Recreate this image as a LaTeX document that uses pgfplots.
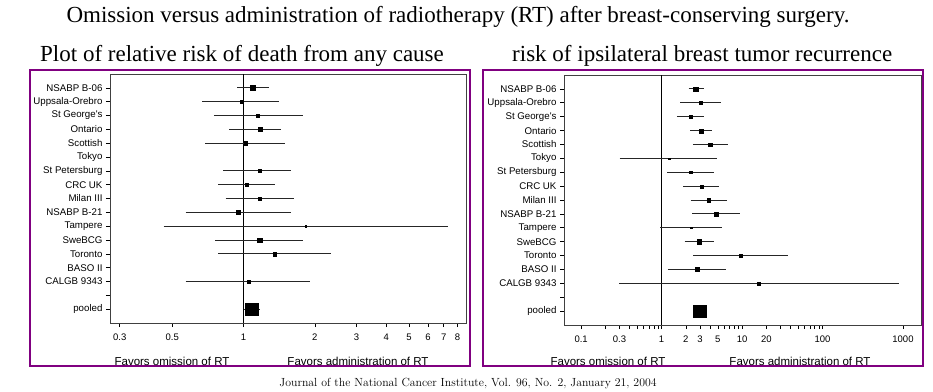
\documentclass[border=0pt]{standalone}
\usepackage{pgfplots}
\pgfplotsset{compat=1.18}
\usepackage{fontspec}
\setmainfont{Liberation Serif}
\newfontfamily\sans{Liberation Sans}
\newfontfamily\lmr{Latin Modern Roman}
\definecolor{frameP}{RGB}{128,0,128}

\pgfplotsset{
  fp/.style={
    scale only axis, anchor=south west, y dir=reverse, ymin=0, ymax=18,
    axis line style={black!75, line width=0.8pt},
    tick align=outside, tick style={black, line width=0.6pt},
    major tick length=4pt, minor tick length=0pt,
    xtick pos=bottom, ytick pos=left,
    ytick={1,...,17},
    yticklabels={NSABP B-06, Uppsala-Orebro, St George's, Ontario, Scottish, Tokyo, St Petersburg, CRC UK, Milan III, NSABP B-21, Tampere, SweBCG, Toronto, BASO II, CALGB 9343, {}, pooled},
    yticklabel style={font=\sans\fontsize{9.7}{11}\selectfont},
    xticklabel style={font=\sans\fontsize{9.5}{11}\selectfont, yshift=-3pt},
    /pgf/number format/assume math mode=true,
    unbounded coords=jump,
  },
  ci/.style={black!85, line width=0.8pt, mark=none},
  sq/.style={only marks, mark=square*, black, mark options={line width=0.1pt, fill=black}},
}

\begin{document}
\begin{tikzpicture}
\path[use as bounding box] (0pt,0pt) rectangle (933pt,391pt);
\draw[frameP, line width=2pt] (30pt,25pt) rectangle (470pt,321pt);
\draw[frameP, line width=2pt] (483pt,25pt) rectangle (923pt,321pt);

\node[anchor=base, inner sep=0pt, font=\fontsize{23}{27}\selectfont] at (458pt,368pt)
  {Omission versus administration of radiotherapy (RT) after breast-conserving surgery.};
\node[anchor=base west, inner sep=0pt, font=\fontsize{23}{27}\selectfont] at (40pt,329pt)
  {Plot of relative risk of death from any cause};
\node[anchor=base west, inner sep=0pt, font=\fontsize{23}{27}\selectfont] at (512pt,329pt)
  {risk of ipsilateral breast tumor recurrence};
\node[anchor=base, inner sep=0pt, font=\lmr\fontsize{11.8}{14}\selectfont] at (468pt,5pt)
  {Journal of the National Cancer Institute, Vol. 96, No. 2, January 21, 2004};

% Left panel: relative risk of death from any cause
\begin{semilogxaxis}[fp, at={(110pt,68pt)}, width=356pt, height=249pt,
  xmin=0.273, xmax=8.69,
  xtick={0.3,0.5,1,2,3,4,5,6,7,8},
  xticklabels={0.3,0.5,1,2,3,4,5,6,7,8}]
\addplot[black, line width=0.7pt] coordinates {(1,0) (1,18)};
\addplot[ci] coordinates {
(0.94,1) (1.28,1) (nan,nan)
(0.67,2) (1.41,2) (nan,nan)
(0.75,3) (1.79,3) (nan,nan)
(0.87,4) (1.44,4) (nan,nan)
(0.69,5) (1.49,5) (nan,nan)
(0.82,7) (1.59,7) (nan,nan)
(0.78,8) (1.36,8) (nan,nan)
(0.84,9) (1.63,9) (nan,nan)
(0.57,10) (1.58,10) (nan,nan)
(0.46,11) (7.31,11) (nan,nan)
(0.76,12) (1.79,12) (nan,nan)
(0.78,13) (2.33,13) (nan,nan)
(0.57,15) (1.90,15) (nan,nan)
(1.00,17) (1.17,17)
};
% point estimates (marker half-size in pt)
\addplot[sq, mark size=2.5] coordinates {(1.09,1)};
\addplot[sq, mark size=1.6] coordinates {(0.98,2)};
\addplot[sq, mark size=1.5] coordinates {(1.15,3)};
\addplot[sq, mark size=2.0] coordinates {(1.17,4)};
\addplot[sq, mark size=1.8] coordinates {(1.02,5)};
\addplot[sq, mark size=1.5] coordinates {(1.17,7)};
\addplot[sq, mark size=1.8] coordinates {(1.03,8)};
\addplot[sq, mark size=1.8] coordinates {(1.17,9)};
\addplot[sq, mark size=2.0] coordinates {(0.95,10)};
\addplot[sq, mark size=0.8] coordinates {(1.83,11)};
\addplot[sq, mark size=2.3] coordinates {(1.17,12)};
\addplot[sq, mark size=1.8] coordinates {(1.35,13)};
\addplot[sq, mark size=1.5] coordinates {(1.05,15)};
\addplot[sq, mark size=6.3] coordinates {(1.08,17)};
\end{semilogxaxis}

% Right panel: ipsilateral breast tumor recurrence
\begin{semilogxaxis}[fp, at={(564pt,66pt)}, width=357pt, height=250pt,
  xmin=0.0612, xmax=1675,
  xtick={0.1,0.2,0.3,0.4,0.5,0.6,0.7,0.8,0.9,1,2,3,4,5,6,7,8,9,10,20,30,40,50,60,70,80,90,100,1000},
  xticklabels={0.1,{},0.3,{},{},{},{},{},{},1,2,3,{},5,{},{},{},{},10,20,{},{},{},{},{},{},{},100,1000}]
\addplot[black, line width=0.7pt] coordinates {(1,0) (1,18)};
\addplot[ci] coordinates {
(2.16,1) (3.35,1) (nan,nan)
(1.70,2) (5.40,2) (nan,nan)
(1.55,3) (3.38,3) (nan,nan)
(2.26,4) (4.17,4) (nan,nan)
(2.44,5) (6.60,5) (nan,nan)
(0.30,6) (4.91,6) (nan,nan)
(1.18,7) (4.50,7) (nan,nan)
(1.87,8) (5.20,8) (nan,nan)
(2.29,9) (6.47,9) (nan,nan)
(2.40,10) (9.48,10) (nan,nan)
(0.96,11) (5.71,11) (nan,nan)
(1.93,12) (4.50,12) (nan,nan)
(2.49,13) (37.5,13) (nan,nan)
(1.20,14) (6.35,14) (nan,nan)
(0.296,15) (899,15)
};
\addplot[sq, mark size=2.3] coordinates {(2.66,1)};
\addplot[sq, mark size=1.5] coordinates {(3.04,2)};
\addplot[sq, mark size=1.5] coordinates {(2.26,3)};
\addplot[sq, mark size=2.0] coordinates {(3.07,4)};
\addplot[sq, mark size=1.8] coordinates {(4.01,5)};
\addplot[sq, mark size=0.7] coordinates {(1.23,6)};
\addplot[sq, mark size=1.3] coordinates {(2.29,7)};
\addplot[sq, mark size=1.5] coordinates {(3.10,8)};
\addplot[sq, mark size=1.8] coordinates {(3.83,9)};
\addplot[sq, mark size=2.3] coordinates {(4.76,10)};
\addplot[sq, mark size=0.7] coordinates {(2.31,11)};
\addplot[sq, mark size=2.3] coordinates {(2.93,12)};
\addplot[sq, mark size=1.8] coordinates {(9.57,13)};
\addplot[sq, mark size=2.0] coordinates {(2.77,14)};
\addplot[sq, mark size=1.5] coordinates {(16.2,15)};
\addplot[sq, mark size=6.3] coordinates {(2.96,17)};
\end{semilogxaxis}

\node[font=\sans\fontsize{11.5}{13}\selectfont] at (172pt,30pt) {Favors omission of RT};
\node[font=\sans\fontsize{11.5}{13}\selectfont] at (358pt,30pt) {Favors administration of RT};
\node[font=\sans\fontsize{11.5}{13}\selectfont] at (608pt,30pt) {Favors omission of RT};
\node[font=\sans\fontsize{11.5}{13}\selectfont] at (800pt,30pt) {Favors administration of RT};
\end{tikzpicture}
\end{document}
